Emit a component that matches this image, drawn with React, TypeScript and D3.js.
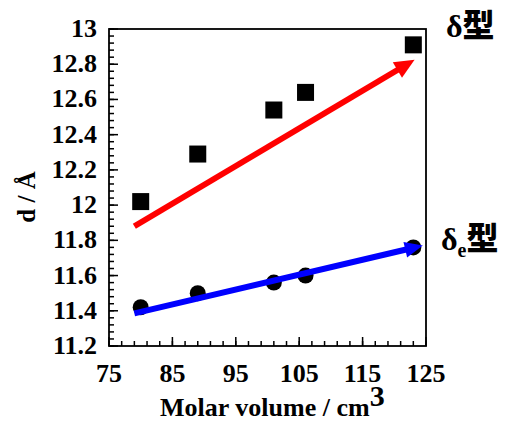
import React from 'react';
import * as d3 from 'd3';

// molar volume (cm3) and d spacing (Å)
const molarVolume = [80, 89, 101, 106, 123];
const deltaD = [12.02, 12.29, 12.54, 12.64, 12.91];
const deltaED = [11.42, 11.50, 11.56, 11.60, 11.76];

const xTicks = [75, 85, 95, 105, 115, 125];
const yTicks = [11.2, 11.4, 11.6, 11.8, 12, 12.2, 12.4, 12.6, 12.8, 13];

// trend arrows: [x0, y0, x1, y1] in data units
const redArrow = [79, 11.88, 123.2, 12.825];
const blueArrow = [79, 11.385, 124.5, 11.77];

const W = 505;
const H = 424;
const margin = { left: 109, right: 79, top: 29, bottom: 78 };
const FONT = "'Liberation Serif', 'DejaVu Serif', serif";
const CJK = "'Noto Sans CJK JP', sans-serif";

const Arrow: React.FC<{ pts: number[]; x: d3.ScaleLinear<number, number>; y: d3.ScaleLinear<number, number>; color: string; head: number; hw: number }> = ({ pts, x, y, color, head, hw }) => {
  const x0 = x(pts[0]), y0 = y(pts[1]), x1 = x(pts[2]), y1 = y(pts[3]);
  const len = Math.hypot(x1 - x0, y1 - y0);
  const ux = (x1 - x0) / len, uy = (y1 - y0) / len;
  const bx = x1 - ux * head, by = y1 - uy * head;
  const px = -uy, py = ux;
  const tri = [
    [x1, y1],
    [bx + px * hw, by + py * hw],
    [bx - px * hw, by - py * hw]
  ].map(p => p.join(',')).join(' ');
  return (
    <g>
      <line x1={x0} y1={y0} x2={bx + ux * 2} y2={by + uy * 2} stroke={color} strokeWidth={6} />
      <polygon points={tri} fill={color} />
    </g>
  );
};

export default function App() {
  const innerW = W - margin.left - margin.right;
  const innerH = H - margin.top - margin.bottom;
  const x = d3.scaleLinear().domain([75, 125]).range([margin.left, margin.left + innerW]);
  const y = d3.scaleLinear().domain([11.2, 13]).range([margin.top + innerH, margin.top]);

  const xMinor = d3.range(75, 125.01, 2);
  const yMinor = d3.range(0, 46).map(i => 11.2 + i * 0.04);

  const bottom = margin.top + innerH;
  const txt: React.CSSProperties = { fontFamily: FONT, fontWeight: 'bold' };

  return (
    <svg width={W} height={H} style={{ position: 'absolute', left: 0, top: 0 }}>
      <rect x={0} y={0} width={W} height={H} fill="#fff" />

      {/* minor ticks */}
      {xMinor.map((v, i) => (
        <line key={'xm' + i} x1={x(v)} x2={x(v)} y1={bottom} y2={bottom - 5} stroke="#000" strokeWidth={1.5} />
      ))}
      {yMinor.map((v, i) => (
        <line key={'ym' + i} x1={margin.left} x2={margin.left + 5} y1={y(v)} y2={y(v)} stroke="#000" strokeWidth={1.5} />
      ))}
      {/* major ticks */}
      {xTicks.map(v => (
        <line key={'xM' + v} x1={x(v)} x2={x(v)} y1={bottom} y2={bottom - 9} stroke="#000" strokeWidth={1.5} />
      ))}
      {yTicks.map(v => (
        <line key={'yM' + v} x1={margin.left} x2={margin.left + 9} y1={y(v)} y2={y(v)} stroke="#000" strokeWidth={1.5} />
      ))}

      <rect x={margin.left} y={margin.top} width={innerW} height={innerH} fill="none" stroke="#000" strokeWidth={1.8} />

      {/* tick labels */}
      {xTicks.map(v => (
        <text key={'xl' + v} x={x(v)} y={bottom + 36} textAnchor="middle" fontSize={26} style={txt}>{v}</text>
      ))}
      {yTicks.map(v => (
        <text key={'yl' + v} x={margin.left - 12} y={y(v) + 8} textAnchor="end" fontSize={26} style={txt}>{v}</text>
      ))}

      {/* axis titles */}
      <text x={160} y={416} fontSize={26} style={txt}>
        Molar volume / cm<tspan dy={-10} fontSize={30}>3</tspan>
      </text>
      <text transform="translate(35,197) rotate(-90)" textAnchor="middle" fontSize={25} style={txt}>d / Å</text>

      {/* data */}
      {molarVolume.map((v, i) => (
        <circle key={'c' + i} cx={x(v)} cy={y(deltaED[i])} r={8} fill="#000" />
      ))}
      {molarVolume.map((v, i) => (
        <rect key={'s' + i} x={x(v) - 8.5} y={y(deltaD[i]) - 8.5} width={17} height={17} fill="#000" />
      ))}

      <Arrow pts={redArrow} x={x} y={y} color="#ff0000" head={20} hw={9} />
      <Arrow pts={blueArrow} x={x} y={y} color="#0000ff" head={18} hw={8} />

      {/* series labels */}
      <text x={446} y={37} fontSize={32} style={txt}>δ<tspan style={{ fontFamily: CJK, fontWeight: 900 }}>型</tspan></text>
      <text x={441} y={250} fontSize={32} style={txt}>δ<tspan dy={7} fontSize={20}>e</tspan><tspan dy={-7} style={{ fontFamily: CJK, fontWeight: 900 }}>型</tspan></text>
    </svg>
  );
}
